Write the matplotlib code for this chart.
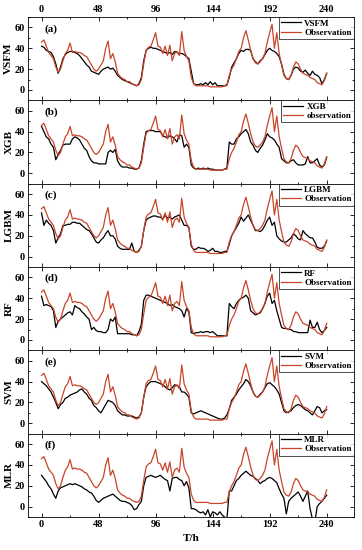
import numpy as np
import matplotlib
matplotlib.use("Agg")
import matplotlib.pyplot as plt
from matplotlib.ticker import MultipleLocator

plt.rcParams['font.family'] = ['Liberation Serif', 'DejaVu Serif']
plt.rcParams['font.weight'] = 'bold'

hours = list(range(0, 241, 2))

observation = [46, 48, 42, 36, 33, 30, 22, 17, 20, 28,
               35, 38, 45, 36, 37, 36, 36, 35, 33, 32,
               28, 24, 20, 18, 20, 24, 28, 40, 47, 30,
               35, 27, 16, 13, 11, 10, 8, 8, 6, 5,
               4, 5, 10, 25, 38, 41, 42, 48, 55, 42,
               41, 35, 42, 33, 43, 28, 35, 37, 33, 56,
               38, 32, 28, 12, 6, 4, 4, 4, 4, 4,
               4, 3, 3, 3, 3, 3, 3, 4, 4, 14,
               20, 24, 30, 37, 40, 50, 57, 48, 38, 30,
               26, 25, 27, 30, 35, 46, 55, 63, 40, 55,
               35, 24, 14, 11, 10, 14, 22, 27, 25, 20,
               16, 15, 14, 12, 11, 10, 7, 6, 5, 9,
               16]

vsfm = [42, 41, 38, 37, 36, 32, 25, 16, 22, 30,
        34, 36, 37, 37, 36, 35, 33, 30, 27, 24,
        22, 18, 17, 16, 15, 18, 20, 21, 22, 20,
        21, 18, 14, 12, 10, 9, 8, 7, 6, 5,
        4, 6, 12, 28, 38, 40, 41, 40, 40, 39,
        38, 37, 36, 35, 36, 34, 37, 36, 35, 35,
        34, 32, 30, 18, 6, 5, 5, 6, 5, 7,
        5, 8, 5, 7, 4, 4, 4, 4, 5, 12,
        22, 26, 30, 35, 38, 37, 39, 39, 38, 30,
        27, 25, 28, 30, 34, 38, 40, 38, 37, 35,
        32, 25, 15, 11, 10, 14, 20, 22, 21, 18,
        17, 19, 16, 14, 18, 15, 14, 12, 6, 10,
        16]

xgb = [45, 40, 35, 33, 28, 25, 13, 18, 22, 27,
       28, 28, 28, 33, 35, 34, 32, 28, 24, 22,
       16, 12, 10, 10, 9, 9, 9, 9, 20, 22,
       20, 23, 12, 8, 6, 6, 6, 5, 5, 4,
       4, 5, 12, 28, 40, 41, 41, 41, 40, 40,
       40, 36, 35, 34, 36, 35, 33, 30, 37, 36,
       25, 28, 25, 8, 5, 4, 5, 4, 5, 4,
       5, 4, 4, 3, 3, 3, 3, 4, 5, 30,
       28, 28, 33, 35, 38, 40, 42, 38, 30, 27,
       22, 20, 24, 27, 32, 38, 35, 34, 32, 28,
       25, 14, 12, 10, 10, 12, 13, 10, 8, 8,
       8, 9, 16, 10, 10, 12, 14, 8, 6, 8,
       15]

lgbm = [42, 30, 35, 32, 30, 25, 13, 18, 22, 30,
        30, 31, 31, 33, 33, 32, 32, 30, 28, 26,
        25, 22, 18, 14, 13, 16, 18, 22, 25, 20,
        20, 17, 10, 8, 7, 7, 7, 7, 13, 5,
        4, 6, 10, 25, 35, 37, 38, 39, 39, 38,
        38, 36, 40, 37, 38, 36, 38, 39, 40, 35,
        30, 30, 28, 10, 7, 7, 9, 8, 8, 7,
        5, 6, 8, 5, 5, 4, 4, 5, 5, 12,
        20, 24, 28, 32, 38, 34, 37, 40, 35, 30,
        25, 25, 24, 26, 30, 35, 38, 30, 33, 20,
        17, 15, 14, 14, 16, 18, 22, 20, 17, 16,
        25, 22, 20, 18, 18, 14, 9, 8, 8, 10,
        15]

rf = [42, 33, 34, 33, 32, 28, 12, 18, 20, 22,
      24, 26, 27, 24, 33, 31, 30, 27, 25, 22,
      20, 10, 12, 9, 8, 8, 7, 7, 10, 20,
      18, 22, 6, 6, 6, 6, 6, 6, 5, 5,
      4, 8, 15, 38, 43, 43, 42, 41, 40, 39,
      38, 37, 36, 35, 33, 34, 32, 31, 30, 28,
      22, 30, 27, 7, 6, 7, 7, 8, 7, 8,
      8, 7, 8, 6, 4, 4, 4, 4, 4, 35,
      32, 30, 35, 38, 40, 41, 43, 40, 28, 26,
      24, 25, 26, 30, 35, 42, 45, 35, 38, 28,
      20, 12, 11, 11, 10, 10, 8, 8, 7, 7,
      7, 7, 7, 19, 12, 12, 17, 10, 7, 9,
      12]

svm = [40, 38, 36, 33, 30, 25, 20, 14, 18, 20,
       24, 25, 27, 28, 29, 30, 32, 33, 30, 28,
       24, 22, 17, 15, 12, 10, 14, 18, 22, 21,
       20, 17, 12, 10, 8, 8, 7, 7, 7, 6,
       5, 6, 10, 25, 35, 38, 40, 40, 40, 39,
       38, 37, 35, 33, 32, 34, 37, 36, 35, 30,
       30, 28, 25, 10, 9, 10, 11, 12, 11, 10,
       9, 8, 7, 6, 5, 4, 4, 5, 8, 14,
       22, 25, 28, 32, 35, 38, 42, 40, 36, 30,
       26, 25, 28, 30, 34, 38, 39, 37, 35, 32,
       28, 20, 12, 10, 11, 12, 15, 17, 18, 17,
       15, 13, 12, 10, 8, 12, 16, 15, 10, 12,
       13]

mlr = [30, 27, 24, 20, 17, 12, 8, 15, 18, 19,
       20, 21, 22, 21, 22, 21, 20, 19, 17, 16,
       14, 13, 10, 6, 4, 6, 8, 9, 10, 11,
       12, 10, 8, 6, 5, 5, 4, 3, 1, -3,
       -2, 2, 5, 20, 28, 29, 30, 29, 28, 29,
       30, 28, 26, 25, 15, 27, 28, 28, 26, 25,
       20, 24, 18, -2, -2, -3, -5, -6, -5, -8,
       -3, -10, -5, -6, -8, -5, -8, -10, -12, 15,
       15, 20, 25, 27, 30, 32, 34, 32, 30, 29,
       27, 25, 22, 24, 25, 27, 28, 27, 25, 23,
       17, 12, 8, -7, 5, 8, 10, 12, 14, 10,
       5, 10, 15, -2, -12, -15, 0, 3, 5, 8,
       11]

model_names = ['VSFM', 'XGB', 'LGBM', 'RF', 'SVM', 'MLR']
obs_labels = ['Observation', 'observation', 'Observation', 'Observation', 'Observation', 'Observation']
panel_tags = ['(a)', '(b)', '(c)', '(d)', '(e)', '(f)']
models = [vsfm, xgb, lgbm, rf, svm, mlr]
xticks = [0, 48, 96, 144, 192, 240]
yticks = [0, 20, 40, 60]

obs_color = '#c8452a'

fig, axes = plt.subplots(6, 1, figsize=(3.62, 5.5), dpi=100, sharex=True)
fig.subplots_adjust(left=0.077, right=0.978, top=0.969, bottom=0.06, hspace=0)

for i, ax in enumerate(axes):
    ax.plot(hours, models[i], color='black', lw=0.9, label=model_names[i])
    ax.plot(hours, observation, color=obs_color, lw=0.9, label=obs_labels[i])
    ax.set_xlim(-11.5, 263)
    ax.set_ylim(-10, 70)
    ax.set_yticks(yticks)
    ax.set_xticks(xticks)
    ax.xaxis.set_minor_locator(MultipleLocator(24))
    ax.yaxis.set_minor_locator(MultipleLocator(10))
    ax.tick_params(which='both', direction='in', top=True, right=True,
                   labelsize=7.5, length=3, width=0.6, pad=2)
    ax.tick_params(which='minor', length=1.5)
    for lab in ax.get_yticklabels():
        lab.set_fontweight('bold')
    ax.set_ylabel(model_names[i], fontsize=8, fontweight='bold', labelpad=1)
    ax.text(0.05, 0.86, panel_tags[i], transform=ax.transAxes, fontsize=8,
            fontweight='bold', va='center', ha='left')
    leg = ax.legend(loc='upper right', fontsize=6.5, frameon=True, fancybox=False,
                    edgecolor='black', borderaxespad=0, handlelength=2.2,
                    handletextpad=0.4, borderpad=0.25, labelspacing=0.1,
                    prop={'weight': 'bold', 'size': 6.5})
    leg.get_frame().set_linewidth(0.6)
    for sp in ax.spines.values():
        sp.set_linewidth(0.6)
    if i == 0:
        ax.tick_params(which='major', labeltop=True)
    if i != 5:
        ax.tick_params(which='both', labelbottom=False)

for ax in [axes[0], axes[5]]:
    for lab in ax.get_xticklabels():
        lab.set_fontweight('bold')

axes[5].set_xlabel('T/h', fontsize=8, fontweight='bold', labelpad=4)

fig.savefig('out.png', dpi=100)
